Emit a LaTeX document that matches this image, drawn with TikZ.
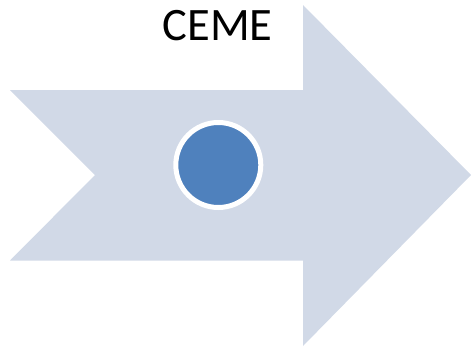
\documentclass[tikz,border=0pt]{standalone}
\usepackage{fontspec}
\setmainfont{Carlito}
\definecolor{arrowfill}{HTML}{D1D9E7}
\definecolor{dotblue}{HTML}{4F81BD}
\begin{document}
\begin{tikzpicture}[x=1pt,y=-1pt,
  chevron/.style={fill=arrowfill,draw=none},
  dot/.style={circle,fill=dotblue,draw=white,line width=5pt,minimum size=85pt,inner sep=0pt},
  label/.style={font=\fontsize{46.5}{50}\selectfont,anchor=base,inner sep=0pt}]
  \useasboundingbox (0,0) rectangle (471,348);
  % notched block arrow
  \fill[chevron] (10,90) -- (303,90) -- (303,5) -- (471,175) -- (303,346)
    -- (303,260.5) -- (10,260.5) -- (95,175) -- cycle;
  % marker on the arrow
  \node[dot] (marker) at (218.3,165) {};
  % title
  \node[label] (title) at (217.7,40) {CEME};
\end{tikzpicture}
\end{document}
